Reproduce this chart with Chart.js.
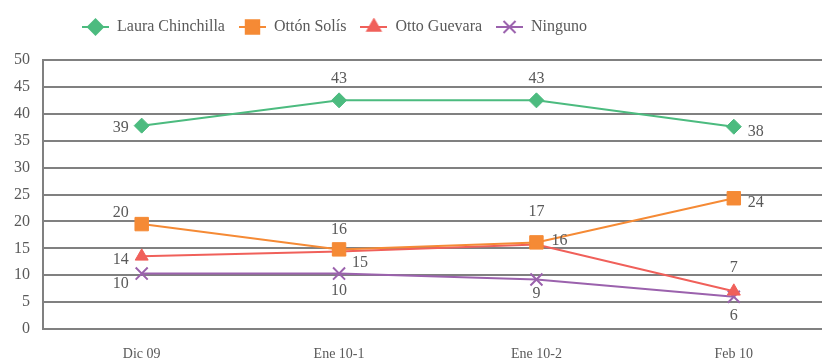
<!DOCTYPE html>
<html>
<head>
<meta charset="utf-8">
<script src="https://cdn.jsdelivr.net/npm/chart.js@4/dist/chart.umd.min.js"></script>
<style>
html, body { margin: 0; padding: 0; background: #fff; overflow: hidden; }
#wrap { width: 822px; height: 364px; overflow: hidden; }
canvas { display: block; }
</style>
</head>
<body>
<div id="wrap"><canvas id="myChart" width="843" height="364"></canvas></div>
<script>
//
// data
//
const categories = ['Dic 09', 'Ene 10-1', 'Ene 10-2', 'Feb 10'];
const seriesNames = ['Laura Chinchilla', 'Ottón Solís', 'Otto Guevara', 'Ninguno'];

const lauraChinchilla = [37.8, 42.5, 42.5, 37.6];
const ottonSolis = [19.5, 14.8, 16.1, 24.3];
const ottoGuevara = [13.5, 14.4, 15.7, 7.0];
const ninguno = [10.3, 10.3, 9.2, 6.0];

// the printed labels (as shown in the chart)
const lauraLabels = ['39', '43', '43', '38'];
const solisLabels = ['20', '16', '17', '24'];
const guevaraLabels = ['14', '15', '16', '7'];
const ningunoLabels = ['10', '10', '9', '6'];

const yMin = 0;
const yMax = 50;
const yStep = 5;


//
// styles
//
const textColor = '#595959';
const gridColor = '#808080';
const serif = "'Liberation Serif', 'Times New Roman', serif";

const colors = ['#4cbb7f', '#f58a35', '#f0605a', '#9b62ad'];
const pointStyles = ['rectRot', 'rect', 'triangle', 'crossRot'];
const pointRadius = [7.5, 9.5, 7.5, 8.5];

// label offsets (dx, dy) from each point
const labelOffsets = [
    [[-21, 2], [0, -22], [0, -22], [22, 5]],
    [[-21, -11], [0, -20], [0, -31], [22, 5]],
    [[-21, 3], [21, 11], [23, -4], [0, -24]],
    [[-21, 10], [0, 17], [0, 14], [0, 19]],
];
const allLabels = [lauraLabels, solisLabels, guevaraLabels, ningunoLabels];


//
// legend icons: line with the marker in the middle
//
function legendIcon(i) {
    const c = document.createElement('canvas');
    c.width = 27;
    c.height = 18;
    const ctx = c.getContext('2d');
    ctx.strokeStyle = colors[i];
    ctx.fillStyle = colors[i];
    ctx.lineWidth = 2;
    ctx.beginPath();
    ctx.moveTo(0, 9);
    ctx.lineTo(27, 9);
    ctx.stroke();
    Chart.helpers.drawPoint(ctx, {
        pointStyle: pointStyles[i],
        radius: pointRadius[i],
        rotation: 0,
        borderWidth: 2
    }, 13.5, 9);
    return c;
}


//
// plugin: data labels
//
const valueLabels = {
    id: 'valueLabels',
    afterDatasetsDraw(chart) {
        const ctx = chart.ctx;
        ctx.save();
        ctx.font = "16px " + serif;
        ctx.fillStyle = textColor;
        ctx.textAlign = 'center';
        ctx.textBaseline = 'middle';
        chart.data.datasets.forEach((ds, i) => {
            const meta = chart.getDatasetMeta(i);
            meta.data.forEach((pt, j) => {
                const off = labelOffsets[i][j];
                ctx.fillText(allLabels[i][j], pt.x + off[0], pt.y + off[1]);
            });
        });
        ctx.restore();
    }
};

//
// plugin: move the legend left like in the picture
//
const legendPlace = {
    id: 'legendPlace',
    afterLayout(chart) {
        if (chart.legend) {
            chart.legend.left = 68;
            chart.legend.top = 5;
        }
    }
};


function makeDataset(i, values) {
    return {
        label: seriesNames[i],
        data: values,
        borderColor: colors[i],
        backgroundColor: colors[i],
        borderWidth: 2,
        pointStyle: pointStyles[i],
        pointRadius: pointRadius[i],
        pointHoverRadius: pointRadius[i],
        pointBorderWidth: pointStyles[i] === 'crossRot' ? 2 : 1,
        pointBorderColor: colors[i],
        pointBackgroundColor: colors[i],
        tension: 0,
        fill: false,
    };
}


//
// CHART
//
var myChart = new Chart(document.getElementById('myChart').getContext('2d'), {
    type: 'line',
    data: {
        labels: categories,
        datasets: [
            makeDataset(0, lauraChinchilla),
            makeDataset(1, ottonSolis),
            makeDataset(2, ottoGuevara),
            makeDataset(3, ninguno),
        ]
    },
    options: {
        responsive: false,
        animation: false,
        events: [],
        layout: { padding: { top: 20, left: 0, right: 0, bottom: 0 } },
        plugins: {
            tooltip: { enabled: false },
            legend: {
                display: true,
                position: 'top',
                align: 'start',
                labels: {
                    color: textColor,
                    font: { family: serif, size: 16 },
                    usePointStyle: true,
                    pointStyleWidth: 27,
                    padding: 14,
                    generateLabels(chart) {
                        return chart.data.datasets.map((ds, i) => ({
                            text: ds.label,
                            pointStyle: legendIcon(i),
                            fillStyle: colors[i],
                            strokeStyle: colors[i],
                            lineWidth: 0,
                            fontColor: textColor,
                            hidden: false,
                            datasetIndex: i
                        }));
                    }
                }
            }
        },
        scales: {
            x: {
                offset: true,
                grid: { display: false, drawTicks: false },
                border: { display: true, color: gridColor, width: 2 },
                ticks: {
                    color: textColor,
                    font: { family: serif, size: 14 },
                    padding: 17,
                    maxRotation: 0,
                },
                afterFit(scale) { scale.height = 35; }
            },
            y: {
                min: yMin,
                max: yMax,
                grid: { color: gridColor, lineWidth: 2, drawTicks: false },
                border: { display: true, color: gridColor, width: 2 },
                ticks: {
                    stepSize: yStep,
                    color: textColor,
                    font: { family: serif, size: 16 },
                    padding: 13,
                },
                afterFit(scale) { scale.width = 43; }
            }
        }
    },
    plugins: [valueLabels, legendPlace]
});
</script>
</body>
</html>
